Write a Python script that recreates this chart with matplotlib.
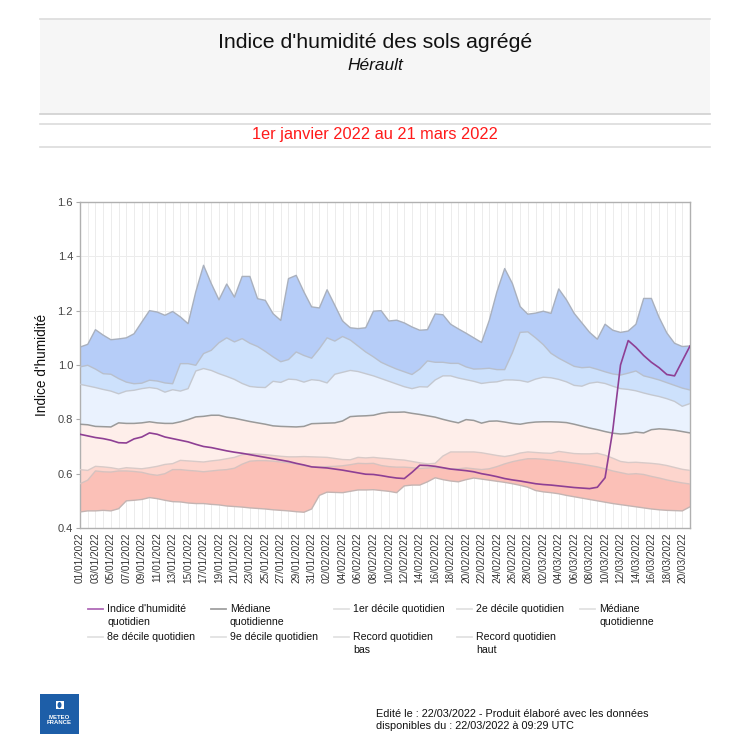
import numpy as np
import pandas as pd
import matplotlib
matplotlib.use("Agg")
import matplotlib.pyplot as plt
import matplotlib.dates as mdates
from matplotlib.lines import Line2D
from matplotlib.patches import Rectangle, Ellipse

plt.rcParams['font.family'] = ['Liberation Sans', 'DejaVu Sans']

# ---------------- data ----------------
start_date = "2022-01-01"
n_days = 80  # 01/01/2022 .. 21/03/2022

record_haut = [1.066, 1.076, 1.13, 1.11, 1.093, 1.096, 1.10, 1.115, 1.158, 1.20,
               1.195, 1.183, 1.197, 1.177, 1.152, 1.27, 1.367, 1.30, 1.24, 1.298,
               1.25, 1.326, 1.326, 1.244, 1.238, 1.189, 1.164, 1.318, 1.33, 1.269,
               1.214, 1.21, 1.277, 1.22, 1.162, 1.137, 1.134, 1.137, 1.198, 1.20,
               1.162, 1.165, 1.155, 1.14, 1.128, 1.13, 1.188, 1.185, 1.15, 1.133,
               1.117, 1.10, 1.083, 1.164, 1.27, 1.355, 1.30, 1.215, 1.187, 1.191,
               1.198, 1.19, 1.28, 1.24, 1.19, 1.155, 1.12, 1.095, 1.15, 1.128,
               1.12, 1.125, 1.15, 1.245, 1.245, 1.175, 1.118, 1.08, 1.068, 1.07]

decile9 = [0.993, 0.999, 0.985, 0.968, 0.966, 0.95, 0.937, 0.931, 0.933, 0.944,
           0.941, 0.934, 0.931, 1.005, 1.005, 0.999, 1.042, 1.054, 1.082, 1.10,
           1.085, 1.097, 1.08, 1.068, 1.05, 1.03, 1.012, 1.02, 1.048, 1.035,
           1.025, 1.06, 1.10, 1.088, 1.105, 1.092, 1.07, 1.048, 1.03, 1.01,
           0.997, 0.985, 0.975, 0.965, 0.985, 1.015, 1.01, 1.01, 1.006, 1.006,
           0.993, 0.985, 0.986, 0.988, 0.983, 0.983, 1.045, 1.12, 1.122, 1.10,
           1.075, 1.043, 1.025, 1.01, 0.995, 0.99, 0.992, 0.984, 0.975, 0.967,
           0.963, 0.97, 0.978, 0.96, 0.953, 0.945, 0.935, 0.925, 0.915, 0.908]

decile8 = [0.929, 0.923, 0.917, 0.91, 0.904, 0.894, 0.904, 0.907, 0.913, 0.917,
           0.913, 0.90, 0.909, 0.904, 0.913, 0.978, 0.987, 0.98, 0.968, 0.958,
           0.947, 0.932, 0.921, 0.918, 0.917, 0.94, 0.936, 0.948, 0.946, 0.937,
           0.946, 0.943, 0.934, 0.966, 0.973, 0.98, 0.976, 0.968, 0.96, 0.95,
           0.94, 0.93, 0.92, 0.913, 0.92, 0.919, 0.945, 0.96, 0.96, 0.952,
           0.946, 0.94, 0.932, 0.936, 0.938, 0.945, 0.945, 0.943, 0.937, 0.948,
           0.955, 0.953, 0.947, 0.938, 0.925, 0.922, 0.933, 0.937, 0.932, 0.922,
           0.913, 0.91, 0.905, 0.897, 0.89, 0.884, 0.876, 0.866, 0.848, 0.858]

mediane = [0.782, 0.78, 0.774, 0.773, 0.772, 0.787, 0.785, 0.785, 0.787, 0.791,
           0.787, 0.785, 0.785, 0.791, 0.799, 0.809, 0.811, 0.815, 0.815, 0.808,
           0.804, 0.798, 0.792, 0.787, 0.782, 0.776, 0.774, 0.773, 0.772, 0.774,
           0.784, 0.785, 0.786, 0.787, 0.794, 0.81, 0.812, 0.813, 0.815, 0.822,
           0.826, 0.826, 0.827, 0.822, 0.818, 0.813, 0.808, 0.80, 0.793, 0.787,
           0.799, 0.796, 0.786, 0.793, 0.794, 0.79, 0.785, 0.782, 0.787, 0.79,
           0.791, 0.791, 0.79, 0.788, 0.782, 0.775, 0.768, 0.762, 0.755, 0.749,
           0.746, 0.748, 0.753, 0.75, 0.762, 0.765, 0.763, 0.76, 0.755, 0.75]

decile2 = [0.615, 0.612, 0.627, 0.625, 0.622, 0.617, 0.622, 0.62, 0.618, 0.622,
           0.627, 0.634, 0.637, 0.649, 0.647, 0.645, 0.643, 0.647, 0.65, 0.655,
           0.66, 0.67, 0.674, 0.672, 0.67, 0.667, 0.664, 0.662, 0.662, 0.663,
           0.662, 0.661, 0.66, 0.656, 0.652, 0.651, 0.66, 0.658, 0.66, 0.657,
           0.655, 0.652, 0.65, 0.645, 0.64, 0.636, 0.638, 0.665, 0.68, 0.68,
           0.68, 0.68, 0.677, 0.672, 0.667, 0.663, 0.668, 0.676, 0.68, 0.678,
           0.676, 0.675, 0.682, 0.678, 0.674, 0.673, 0.673, 0.675, 0.668, 0.657,
           0.645, 0.641, 0.642, 0.64, 0.638, 0.635, 0.63, 0.623, 0.616, 0.612]

decile1 = [0.563, 0.576, 0.61, 0.607, 0.606, 0.61, 0.61, 0.608, 0.605, 0.598,
           0.594, 0.60, 0.615, 0.615, 0.612, 0.61, 0.607, 0.61, 0.613, 0.615,
           0.62, 0.635, 0.646, 0.648, 0.648, 0.646, 0.643, 0.64, 0.636, 0.63,
           0.625, 0.624, 0.626, 0.627, 0.629, 0.633, 0.638, 0.637, 0.638, 0.63,
           0.626, 0.624, 0.624, 0.622, 0.619, 0.621, 0.623, 0.62, 0.616, 0.618,
           0.621, 0.618, 0.615, 0.618, 0.626, 0.636, 0.644, 0.65, 0.655, 0.655,
           0.653, 0.65, 0.647, 0.643, 0.639, 0.635, 0.63, 0.625, 0.618, 0.61,
           0.604, 0.598, 0.60, 0.597, 0.59, 0.584, 0.577, 0.571, 0.566, 0.562]

record_bas = [0.459, 0.463, 0.463, 0.465, 0.463, 0.471, 0.50, 0.502, 0.505, 0.512,
              0.508, 0.502, 0.497, 0.496, 0.492, 0.49, 0.49, 0.487, 0.485, 0.481,
              0.479, 0.477, 0.474, 0.472, 0.47, 0.467, 0.465, 0.463, 0.46, 0.458,
              0.47, 0.52, 0.532, 0.531, 0.53, 0.535, 0.54, 0.54, 0.541, 0.538,
              0.535, 0.53, 0.555, 0.558, 0.558, 0.57, 0.585, 0.578, 0.573, 0.57,
              0.578, 0.584, 0.58, 0.576, 0.572, 0.568, 0.563, 0.557, 0.55, 0.538,
              0.533, 0.53, 0.526, 0.52, 0.515, 0.51, 0.505, 0.50, 0.495, 0.49,
              0.486, 0.482, 0.478, 0.474, 0.47, 0.467, 0.465, 0.464, 0.463, 0.478]

indice = [0.745, 0.739, 0.733, 0.729, 0.723, 0.714, 0.713, 0.728, 0.735, 0.75,
          0.745, 0.735, 0.729, 0.723, 0.717, 0.708, 0.70, 0.696, 0.69, 0.684,
          0.679, 0.675, 0.67, 0.665, 0.66, 0.655, 0.65, 0.645, 0.638, 0.632,
          0.625, 0.623, 0.621, 0.617, 0.613, 0.608, 0.603, 0.598, 0.597, 0.593,
          0.588, 0.584, 0.582, 0.605, 0.631, 0.63, 0.627, 0.622, 0.617, 0.614,
          0.611, 0.607, 0.60, 0.595, 0.589, 0.582, 0.577, 0.573, 0.568, 0.563,
          0.56, 0.558, 0.555, 0.552, 0.549, 0.547, 0.545, 0.55, 0.585, 0.76,
          1.0, 1.09, 1.065, 1.035, 1.01, 0.99, 0.965, 0.96, 1.015, 1.07]

legend_labels = ["Indice d'humidité\nquotidien", "Médiane\nquotidienne",
                 "1er décile quotidien", "2e décile quotidien", "Médiane\nquotidienne",
                 "8e décile quotidien", "9e décile quotidien",
                 "Record quotidien\nbas", "Record quotidien\nhaut"]

title = "Indice d'humidité des sols agrégé"
subtitle = "Hérault"
period = "1er janvier 2022 au 21 mars 2022"
ylabel = "Indice d'humidité"
footer = "Edité le : 22/03/2022 - Produit élaboré avec les données\ndisponibles du : 22/03/2022 à 09:29 UTC"

# ---------------- figure ----------------
W = H = 750
fig = plt.figure(figsize=(7.5, 7.5), dpi=100)
fig.patch.set_facecolor("white")

def fx(px):
    return px / W

def fy(py):
    return 1 - py / H

# header box
fig.add_artist(Rectangle((fx(40), fy(114)), fx(670), (114 - 19) / H,
                         transform=fig.transFigure, facecolor="#f6f6f6",
                         edgecolor="none", zorder=0))
for yy, c in [(19, "#dcdcdc"), (114, "#d0d0d0"), (124, "#dcdcdc"), (147, "#dcdcdc")]:
    fig.add_artist(Line2D([fx(40), fx(710)], [fy(yy), fy(yy)], transform=fig.transFigure,
                          color=c, lw=1.2))

fig.text(0.5, fy(43), title, ha="center", va="center", fontsize=15.3, color="#111111")
fig.text(0.5, fy(66), subtitle, ha="center", va="center", fontsize=12.5,
         style="italic", color="#111111")
fig.text(0.5, fy(135), period, ha="center", va="center", fontsize=11.8, color="#ff1a1a")

# axes
ax = fig.add_axes([fx(80), fy(528), fx(690) - fx(80), (528 - 202) / H])
dates = pd.date_range(start_date, periods=n_days, freq="D")
x = mdates.date2num(dates.to_pydatetime())

c_haut = "#b6cdf8"
c_9 = "#cde1fc"
c_8 = "#eaf2fe"
c_2 = "#feeeea"
c_1 = "#fdd5cd"
c_bas = "#fbc0b7"

ax.fill_between(x, record_bas, decile1, facecolor=c_bas, edgecolor="none", zorder=2)
ax.fill_between(x, decile1, decile2, facecolor=c_1, edgecolor="none", zorder=2)
ax.fill_between(x, decile2, mediane, facecolor=c_2, edgecolor="none", zorder=2)
ax.fill_between(x, mediane, decile8, facecolor=c_8, edgecolor="none", zorder=2)
ax.fill_between(x, decile8, decile9, facecolor=c_9, edgecolor="none", zorder=2)
ax.fill_between(x, decile9, record_haut, facecolor=c_haut, edgecolor="none", zorder=2)

ax.plot(x, record_bas, color="#c4b4b2", lw=1.0, zorder=3)
ax.plot(x, decile1, color="#d6c2bf", lw=1.0, zorder=3)
ax.plot(x, decile2, color="#d8cac8", lw=1.0, zorder=3)
ax.plot(x, decile8, color="#c4c8d0", lw=1.0, zorder=3)
ax.plot(x, decile9, color="#b8bfcc", lw=1.0, zorder=3)
ax.plot(x, record_haut, color="#a9b0bd", lw=1.0, zorder=3)
ax.plot(x, mediane, color="#9a9a9a", lw=1.1, zorder=4)
ax.plot(x, indice, color="#8e3f94", lw=1.2, zorder=5)

ax.set_xlim(x[0], x[-1])
ax.set_ylim(0.4, 1.6)
ax.set_yticks(np.arange(0.4, 1.61, 0.2))
ax.set_yticklabels([f"{v:.1f}" for v in np.arange(0.4, 1.61, 0.2)])
ax.xaxis.set_major_formatter(mdates.DateFormatter("%d/%m/%Y"))
ax.set_xticks(x[::2])
ax.set_xticks(x, minor=True)
ax.tick_params(axis="x", which="major", labelrotation=90, labelsize=7.2,
               labelcolor="#333333", length=0, pad=3)
ax.tick_params(axis="x", which="minor", length=0)
ax.tick_params(axis="y", labelsize=8, labelcolor="#444444", length=3, color="#aaaaaa", pad=2)
ax.grid(True, which="both", axis="x", color="#ececec", lw=0.7, zorder=0)
ax.grid(True, which="major", axis="y", color="#ececec", lw=0.7, zorder=0)
ax.set_axisbelow(True)
for s in ax.spines.values():
    s.set_color("#b0b0b0")
    s.set_linewidth(1.0)
ax.set_ylabel(ylabel, fontsize=9.8, color="#111111", labelpad=6)

# legend (manual)
leg_colors = ["#b06ab8", "#a0a0a0", "#e2e2e2", "#e2e2e2", "#e2e2e2",
              "#e2e2e2", "#e2e2e2", "#e2e2e2", "#e2e2e2"]
col_x = [88, 211, 334, 457, 580]
row_y = [609, 637]
for i, (lab, col) in enumerate(zip(legend_labels, leg_colors)):
    r, c = divmod(i, 5)
    x0 = col_x[c]
    y0 = row_y[r]
    fig.add_artist(Line2D([fx(x0), fx(x0 + 15)], [fy(y0), fy(y0)],
                          transform=fig.transFigure, color=col, lw=1.3))
    fig.text(fx(x0 + 19), fy(y0 - 5), lab, ha="left", va="top", fontsize=7.6,
             color="#111111", linespacing=1.35)

# footer
fig.text(fx(376), fy(720), footer, ha="left", va="center", fontsize=7.8,
         color="#111111", linespacing=1.3)

# logo
fig.add_artist(Rectangle((fx(40), fy(734)), 39 / W, 40 / H, transform=fig.transFigure,
                         facecolor="#1d5ea8", edgecolor="none"))
fig.add_artist(Rectangle((fx(55.5), fy(709)), 8 / W, 8 / H, transform=fig.transFigure,
                         facecolor="white", edgecolor="none"))
fig.add_artist(Ellipse((fx(59.5), fy(705)), 4 / W, 6 / H, transform=fig.transFigure,
                       facecolor="#1d5ea8", edgecolor="none"))
fig.text(fx(59.5), fy(720), "METEO\nFRANCE", ha="center", va="center", fontsize=4.3,
         color="white", fontweight="bold", linespacing=1.1)

fig.savefig("out.png", dpi=100, facecolor="white")
